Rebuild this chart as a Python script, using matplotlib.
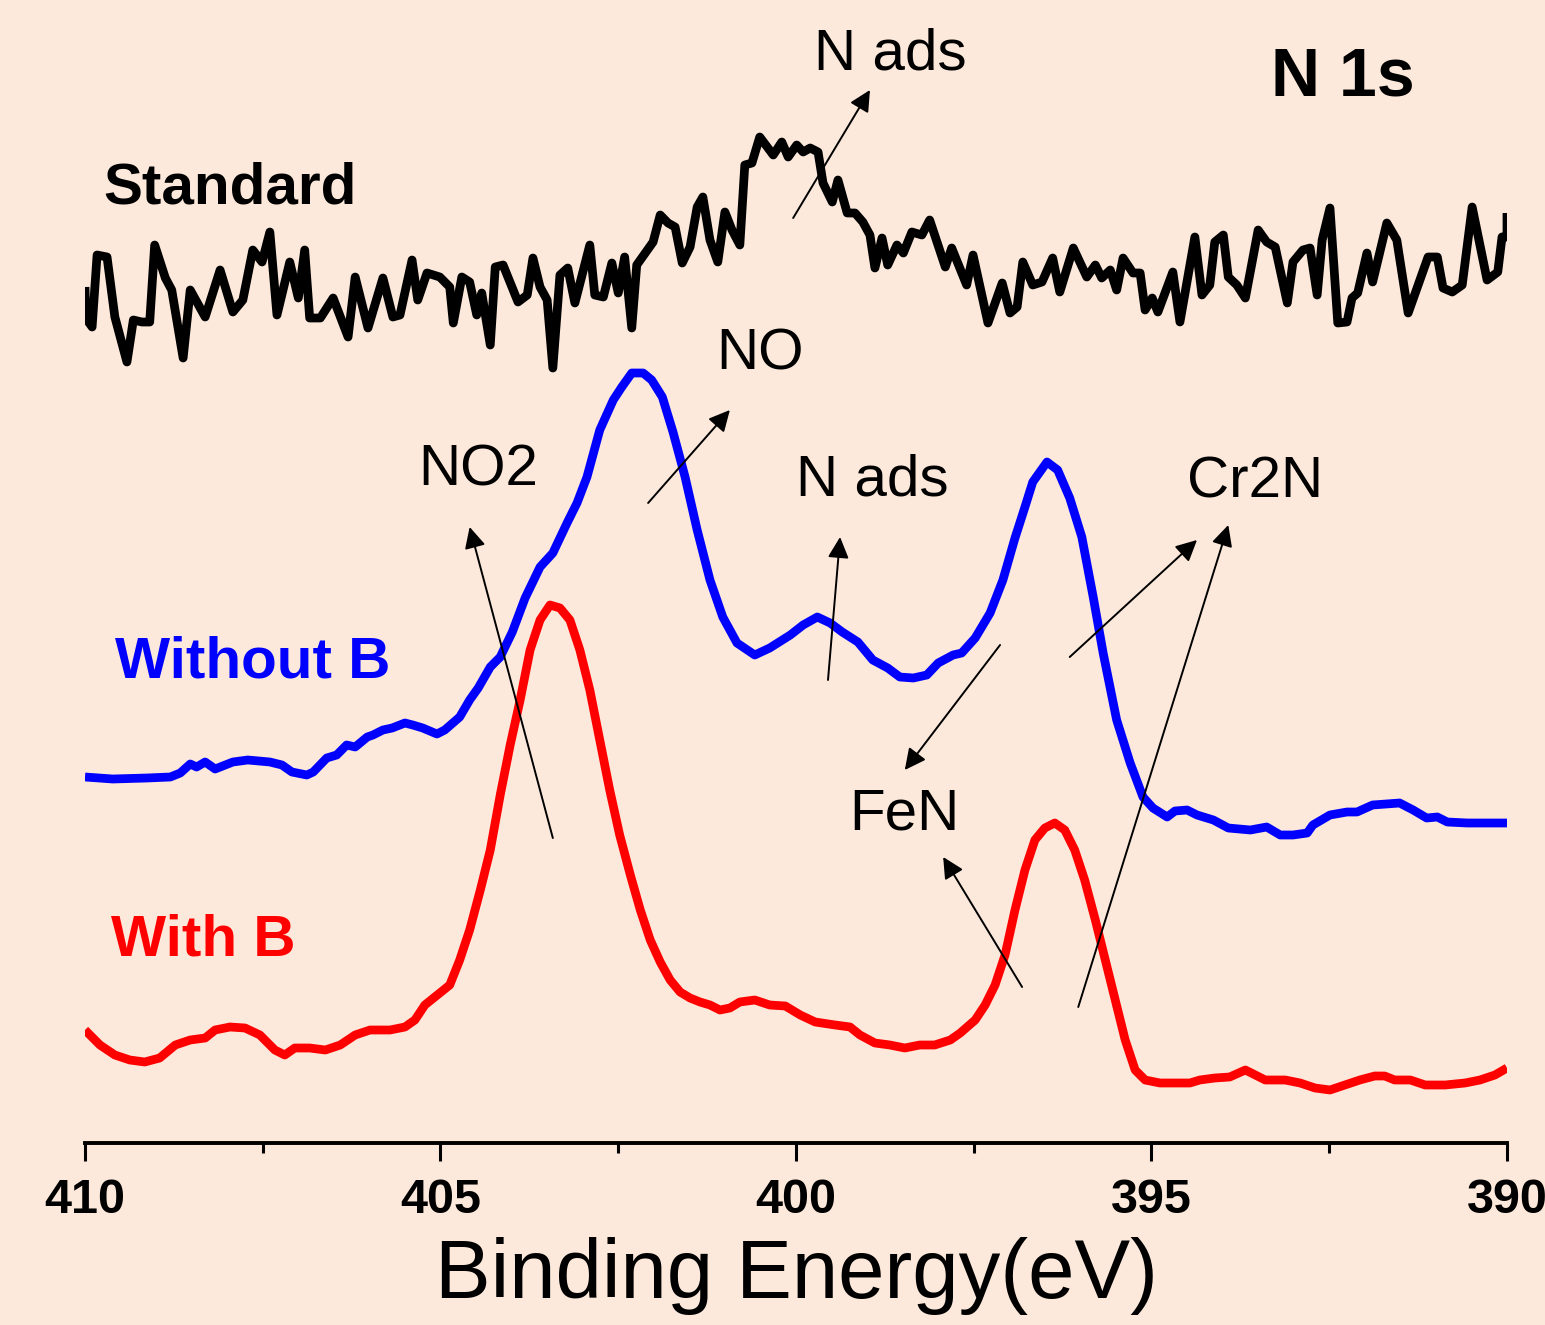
import matplotlib
matplotlib.use("Agg")
import matplotlib.pyplot as plt
from matplotlib.ticker import MultipleLocator

# N 1s XPS spectra, intensity in arbitrary units (curves already offset)
std_ev = [410.00, 409.99, 409.90, 409.83, 409.69, 409.58, 409.41, 409.32, 409.20, 409.09,
          409.02, 408.87, 408.78, 408.62, 408.52, 408.31, 408.10, 407.92, 407.78, 407.64,
          407.51, 407.40, 407.30, 407.12, 407.00, 406.91, 406.84, 406.69, 406.51, 406.30,
          406.20, 406.02, 405.81, 405.67, 405.57, 405.40, 405.32, 405.19, 405.01, 404.87,
          404.82, 404.70, 404.59, 404.49, 404.42, 404.30, 404.23, 404.12, 403.91, 403.78,
          403.70, 403.60, 403.50, 403.42, 403.32, 403.21, 403.11, 402.90, 402.83, 402.71,
          402.59, 402.50, 402.41, 402.31, 402.24, 402.01, 401.91, 401.80, 401.70, 401.60,
          401.49, 401.39, 401.31, 401.21, 401.10, 401.00, 400.90, 400.79, 400.72, 400.62,
          400.51, 400.32, 400.20, 400.11, 399.99, 399.90, 399.80, 399.69, 399.62, 399.49,
          399.41, 399.28, 399.17, 399.06, 398.96, 398.89, 398.79, 398.71, 398.58, 398.49,
          398.37, 398.23, 398.12, 397.90, 397.81, 397.60, 397.51, 397.30, 397.10, 396.99,
          396.89, 396.81, 396.67, 396.54, 396.39, 396.29, 396.10, 395.91, 395.79, 395.70,
          395.58, 395.49, 395.40, 395.26, 395.16, 395.09, 394.99, 394.91, 394.70, 394.60,
          394.39, 394.29, 394.18, 394.11, 393.99, 393.92, 393.80, 393.68, 393.50, 393.38,
          393.26, 393.09, 393.01, 392.87, 392.77, 392.67, 392.60, 392.49, 392.38, 392.25,
          392.18, 392.10, 391.97, 391.89, 391.69, 391.55, 391.39, 391.11, 390.98, 390.90,
          390.77, 390.63, 390.49, 390.28, 390.13, 390.07, 390.00, 390.00]
std_int = [856, 825, 816, 888, 886, 826, 781, 823, 821, 821,
           898, 865, 853, 785, 853, 826, 873, 831, 843, 893,
           881, 911, 828, 881, 845, 893, 825, 825, 845, 806,
           866, 815, 865, 826, 828, 883, 843, 870, 866, 856,
           820, 866, 861, 828, 850, 798, 876, 878, 841, 848,
           885, 856, 843, 775, 868, 875, 840, 898, 848, 846,
           880, 850, 886, 815, 878, 901, 928, 920, 916, 880,
           896, 936, 946, 903, 881, 931, 913, 898, 978, 980,
           1006, 988, 1001, 986, 998, 991, 995, 991, 960, 941,
           963, 930, 930, 921, 908, 875, 905, 878, 898, 890,
           911, 908, 923, 876, 895, 858, 888, 820, 860, 830,
           836, 881, 858, 861, 885, 851, 895, 866, 878, 865,
           873, 853, 885, 870, 870, 833, 845, 831, 871, 821,
           906, 848, 858, 901, 908, 866, 858, 845, 913, 901,
           896, 840, 881, 893, 895, 848, 903, 935, 820, 821,
           845, 850, 890, 861, 920, 903, 830, 886, 886, 855,
           851, 858, 936, 863, 871, 906, 906, 930]

nob_ev = [410.00, 409.61, 409.13, 408.80, 408.66, 408.52, 408.43, 408.31, 408.17, 407.92,
          407.71, 407.40, 407.23, 407.09, 406.88, 406.79, 406.60, 406.46, 406.32, 406.20,
          406.03, 405.95, 405.81, 405.68, 405.50, 405.39, 405.25, 405.05, 404.94, 404.73,
          404.59, 404.47, 404.30, 404.16, 403.99, 403.81, 403.60, 403.42, 403.22, 403.08,
          402.94, 402.76, 402.57, 402.45, 402.31, 402.15, 402.03, 401.88, 401.73, 401.56,
          401.39, 401.21, 401.03, 400.83, 400.58, 400.37, 400.08, 399.90, 399.70, 399.52,
          399.35, 399.13, 398.92, 398.71, 398.54, 398.35, 398.16, 398.00, 397.79, 397.67,
          397.48, 397.27, 397.09, 396.92, 396.78, 396.67, 396.47, 396.32, 396.15, 395.98,
          395.82, 395.68, 395.49, 395.30, 395.12, 394.98, 394.78, 394.67, 394.50, 394.36,
          394.13, 393.92, 393.61, 393.38, 393.19, 393.01, 392.81, 392.73, 392.49, 392.25,
          392.11, 391.89, 391.51, 391.32, 391.13, 390.98, 390.84, 390.56, 390.28, 390.00]
nob_int = [366, 364, 365, 366, 370, 379, 376, 381, 374, 381,
           383, 381, 378, 371, 368, 371, 385, 388, 398, 396,
           406, 408, 413, 415, 420, 418, 415, 409, 413, 426,
           443, 455, 476, 486, 511, 545, 576, 590, 620, 640,
           666, 713, 743, 756, 770, 770, 763, 746, 711, 666,
           613, 563, 526, 500, 488, 495, 508, 518, 526, 520,
           511, 501, 483, 475, 466, 465, 468, 480, 488, 490,
           505, 530, 563, 605, 636, 661, 681, 673, 645, 606,
           546, 490, 423, 380, 346, 335, 326, 332, 333, 328,
           323, 315, 313, 316, 308, 308, 310, 318, 328, 331,
           331, 338, 340, 333, 325, 326, 321, 320, 320, 320]

withb_ev = [410.00, 409.79, 409.58, 409.37, 409.16, 408.95, 408.73, 408.52, 408.31, 408.17,
            407.96, 407.75, 407.54, 407.33, 407.19, 407.05, 406.84, 406.62, 406.41, 406.20,
            405.99, 405.71, 405.50, 405.36, 405.22, 405.01, 404.87, 404.73, 404.59, 404.44,
            404.30, 404.16, 404.02, 403.88, 403.74, 403.60, 403.46, 403.32, 403.18, 403.04,
            402.90, 402.76, 402.62, 402.48, 402.33, 402.19, 402.05, 401.91, 401.77, 401.63,
            401.49, 401.35, 401.21, 401.07, 400.93, 400.79, 400.58, 400.37, 400.15, 399.94,
            399.73, 399.45, 399.24, 399.10, 398.89, 398.68, 398.47, 398.26, 398.05, 397.83,
            397.69, 397.48, 397.34, 397.20, 397.06, 396.92, 396.78, 396.64, 396.50, 396.36,
            396.22, 396.08, 395.94, 395.79, 395.65, 395.51, 395.37, 395.23, 395.09, 394.88,
            394.67, 394.46, 394.32, 394.11, 393.90, 393.68, 393.54, 393.40, 393.12, 392.91,
            392.70, 392.49, 392.28, 392.07, 391.86, 391.72, 391.58, 391.36, 391.15, 390.87,
            390.59, 390.38, 390.17, 390.00]
withb_int = [113, 98, 88, 83, 81, 85, 98, 103, 105, 113,
             116, 115, 108, 93, 88, 95, 95, 93, 98, 108,
             113, 113, 116, 123, 138, 150, 158, 183, 213, 253,
             293, 348, 398, 443, 493, 523, 538, 535, 523, 493,
             453, 403, 353, 308, 268, 233, 203, 181, 163, 151,
             145, 141, 138, 133, 135, 141, 143, 138, 137, 128,
             121, 118, 116, 108, 100, 98, 95, 98, 98, 103,
             110, 123, 138, 158, 188, 233, 273, 303, 315, 320,
             313, 293, 263, 223, 183, 143, 103, 73, 63, 60,
             60, 60, 63, 65, 66, 73, 68, 63, 63, 60,
             55, 53, 58, 63, 67, 67, 63, 63, 58, 58,
             60, 63, 68, 75]

xticks = [410, 405, 400, 395, 390]

# peak assignments: (label, text position, [(arrow tail, arrow head), ...])
peak_notes = [
    ("N ads", (398.68, 1088), [((400.04, 925), (398.96, 1053))]),
    ("NO", (400.51, 788), [((402.08, 640), (400.93, 733))]),
    ("NO2", (404.47, 673), [((403.42, 305), (404.59, 616))]),
    ("N ads", (398.93, 663), [((399.55, 463), (399.38, 606))]),
    ("Cr2N", (393.54, 661), [((396.15, 486), (394.36, 603)),
                             ((396.03, 136), (393.92, 618))]),
    ("FeN", (398.47, 328), [((397.13, 498), (398.47, 373)),
                            ((396.82, 156), (397.93, 286))]),
]

BG = "#FCE9DB"
plt.rcParams["font.family"] = ["Liberation Sans", "DejaVu Sans"]

fig = plt.figure(figsize=(15.45, 13.25), dpi=100, facecolor=BG)
ax = fig.add_axes([85 / 1545, 182 / 1325, 1422 / 1545, 1143 / 1325])
ax.set_facecolor(BG)

lw = 6.3
for ev, inten, col in ((std_ev, std_int, "black"),
                       (nob_ev, nob_int, "#0000FF"),
                       (withb_ev, withb_int, "#FF0000")):
    ax.plot(ev, inten, color=col, lw=lw, solid_joinstyle="round",
            solid_capstyle="butt", zorder=3)

ax.set_xlim(410, 390)
ax.set_ylim(0, 1143)

for s in ("left", "right", "top"):
    ax.spines[s].set_visible(False)
ax.spines["bottom"].set_linewidth(2.8)
ax.set_yticks([])
ax.set_xticks(xticks)
ax.xaxis.set_minor_locator(MultipleLocator(2.5))
ax.tick_params(axis="x", which="major", direction="out", length=13, width=2.2, pad=12)
ax.tick_params(axis="x", which="minor", direction="out", length=7, width=2.2)
for lab in ax.get_xticklabels():
    lab.set_fontweight("bold")
    lab.set_fontsize(35)

ax.set_xlabel("Binding Energy(eV)", fontsize=60, labelpad=10)

ax.text(392.31, 1065, "N 1s", fontsize=49, fontweight="bold", ha="center", va="center")
ax.text(407.96, 955, "Standard", fontsize=42, fontweight="bold", ha="center", va="center")
ax.text(407.64, 481, "Without B", fontsize=42, fontweight="bold", color="#0000FF",
        ha="center", va="center")
ax.text(408.34, 203, "With B", fontsize=42, fontweight="bold", color="#FF0000",
        ha="center", va="center")

for label, pos, arrows in peak_notes:
    ax.text(pos[0], pos[1], label, fontsize=42, ha="center", va="center")
    for tail, head in arrows:
        ax.annotate("", xy=head, xytext=tail,
                    arrowprops=dict(arrowstyle="-|>", mutation_scale=32, lw=1.4,
                                    color="black", shrinkA=0, shrinkB=0))

fig.savefig("out.png", dpi=100, facecolor=BG)
